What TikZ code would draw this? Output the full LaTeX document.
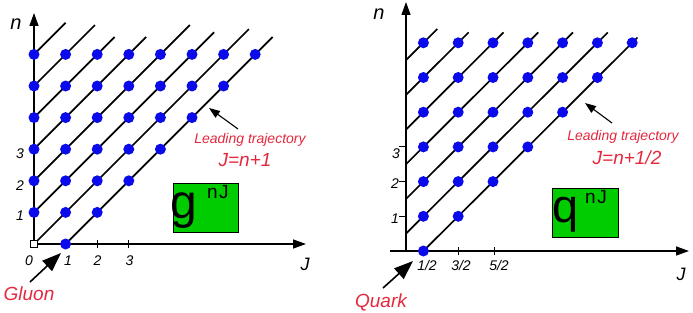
\documentclass[tikz,border=0pt]{standalone}
\usepackage{fontspec}
\setmainfont{Liberation Sans}
\usetikzlibrary{arrows.meta}
\definecolor{dotblue}{RGB}{10,10,235}
\definecolor{lblred}{RGB}{228,40,62}
\definecolor{boxgreen}{RGB}{0,204,0}
\tikzset{
  axisline/.style={line width=1.3pt,-{Triangle[length=13pt,width=9pt]}},
  traj/.style={line width=1.7pt},
  bdot/.style={circle,fill=dotblue,inner sep=0pt,minimum size=11pt},
  ticklbl/.style={font=\fontsize{14}{16}\selectfont\itshape,inner sep=0pt},
  axlbl/.style={font=\fontsize{20}{22}\selectfont\itshape,inner sep=0pt},
  redlbl/.style={text=lblred,font=\fontsize{14}{16}\selectfont\itshape,inner sep=0pt},
  redbig/.style={text=lblred,font=\fontsize{19}{21}\selectfont\itshape,inner sep=0pt},
  pointer/.style={line width=1.1pt,-{Triangle[length=11pt,width=8pt]}},
  bigpointer/.style={line width=1.6pt,-{Triangle[length=19pt,width=14pt]}},
  gbox/.style={draw=black,line width=0.6pt,fill=boxgreen,inner sep=0pt,anchor=north west},
}
\begin{document}
\begin{tikzpicture}[x=1pt,y=-1pt]
\useasboundingbox (0,0) rectangle (693,313);

%% ================= LEFT PANEL (gluon) =================
% trajectories J = n - k
\foreach \k/\ne in {6/7.0,5/6.93,4/6.55,3/6.55,2/6.93,1/6.7,0/6.8}{
  \draw[traj] (34,{244-\k*31.6}) -- ({34+(\ne-\k)*31.6},{244-\ne*31.6});
}
% leading trajectory J = n + 1
\draw[traj] (65.6,244) -- ({34+7.55*31.6},{244-6.55*31.6});
% axes
\coordinate (L0) at (34,244);
\draw[axisline] (L0) -- (34,13);
\draw[axisline] (L0) -- (306,244);
\draw[line width=1pt] (97.2,240) -- (97.2,248);
\draw[line width=1pt] (128.8,240) -- (128.8,248);
% dots
\node[bdot] (gd-1-0) at (65.6,244) {};
\foreach \n in {1,...,6}{
  \pgfmathtruncatemacro{\jm}{\n+1}
  \foreach \j in {0,...,\jm}{
    \node[bdot] (gd-\j-\n) at ({34+\j*31.6},{244-\n*31.6}) {};
  }
}
\node[draw=black,fill=white,line width=0.7pt,minimum size=6.5pt,inner sep=0pt] (gsq) at (L0) {};
% labels
\node[axlbl,anchor=base] (ln) at (16,30) {n};
\node[axlbl,font=\fontsize{18}{20}\selectfont\itshape,anchor=base] (lJ) at (305,270) {J};
\node[ticklbl,anchor=base] (lj0) at (29,265) {0};
\node[ticklbl,anchor=base] (lj1) at (68,265) {1};
\node[ticklbl,anchor=base] (lj2) at (97.5,265) {2};
\node[ticklbl,anchor=base] (lj3) at (129.5,265) {3};
\node[ticklbl,anchor=base east] (ln1) at (24,220) {1};
\node[ticklbl,anchor=base east] (ln2) at (24,190) {2};
\node[ticklbl,anchor=base east] (ln3) at (24,158) {3};
\node[redlbl,anchor=base] (llead) at (250,143) {Leading trajectory};
\node[redbig,anchor=base] (lform) at (245,166) {J=n+1};
\coordinate (lat) at (238,129);
\coordinate (lah) at (209,108);
\draw[pointer] (lat) -- (lah);
\node[redbig,anchor=base] (gluon) at (29,300) {Gluon};
\coordinate (gat) at (30,282);
\coordinate (gah) at (61,253);
\draw[bigpointer] (gat) -- (gah);
\node[gbox,minimum width=65pt,minimum height=49pt] (gb) at (173,183) {};
\node[anchor=base west,inner sep=0pt,font=\fontsize{48}{48}\selectfont] (gg) at (170,218) {g};
\node[anchor=base west,inner sep=0pt,font=\fontsize{19}{19}\selectfont] (gsup) at (207,198) {n\kern1.5pt J};

%% ================= RIGHT PANEL (quark) =================
\foreach \m/\ne in {6/6.4,5/6.3,4/6.3,3/6.3,2/6.3,1/6.3}{
  \draw[traj] (406,{251-(\m-0.5)*34.7}) -- ({406+(\ne-\m+0.5)*34.8},{251-\ne*34.7});
}
\draw[traj] ({406+0.5*34.8},251) -- ({406+6.65*34.8},{251-6.15*34.7});
\coordinate (R0) at (406,251);
\draw[axisline] (406,252) -- (406,2);
\draw[axisline] (390,251) -- (689,251);
\foreach \n in {1,2,3}{
  \draw[line width=1pt] (399,{251-\n*34.7}) -- (406,{251-\n*34.7});
}
\draw[line width=1pt] (458.2,247) -- (458.2,255);
\draw[line width=1pt] (494,247) -- (494,255);
\foreach \n in {0,...,6}{
  \foreach \k in {0,...,\n}{
    \node[bdot] (qd-\k-\n) at ({406+(\k+0.5)*34.8},{251-\n*34.7}) {};
  }
}
\node[axlbl,anchor=base] (rn) at (379,20) {n};
\node[axlbl,font=\fontsize{18}{20}\selectfont\itshape,anchor=base] (rJ) at (681,280) {J};
\node[ticklbl,anchor=base] (rj1) at (427,270) {1/2};
\node[ticklbl,anchor=base] (rj3) at (461,270) {3/2};
\node[ticklbl,anchor=base] (rj5) at (499,270) {5/2};
\node[ticklbl,anchor=base east] (rn1) at (399,223) {1};
\node[ticklbl,anchor=base east] (rn2) at (399,188) {2};
\node[ticklbl,anchor=base east] (rn3) at (400,158) {3};
\node[redlbl,anchor=base] (rlead) at (623,140) {Leading trajectory};
\node[redbig,anchor=base] (rform) at (627,164) {J=n+1/2};
\coordinate (rat) at (612,123);
\coordinate (rah) at (585,103);
\draw[pointer] (rat) -- (rah);
\node[redbig,anchor=base] (quark) at (381,307) {Quark};
\coordinate (qat) at (383,288);
\coordinate (qah) at (413,261);
\draw[bigpointer] (qat) -- (qah);
\node[gbox,minimum width=66pt,minimum height=49pt] (qb) at (552,188) {};
\node[anchor=base west,inner sep=0pt,font=\fontsize{47}{47}\selectfont] (qq) at (552,222) {q};
\node[anchor=base west,inner sep=0pt,font=\fontsize{19}{19}\selectfont] (qsup) at (585,203) {n\kern1.5pt J};
\end{tikzpicture}
\end{document}
